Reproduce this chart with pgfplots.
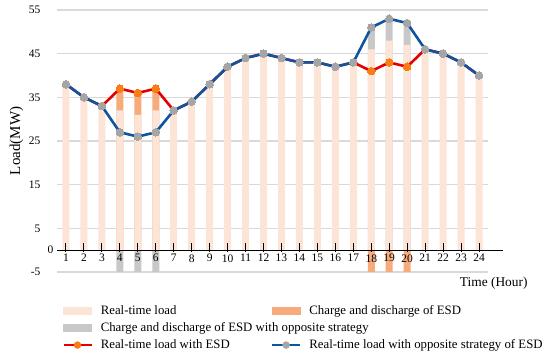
\documentclass[border=0pt]{standalone}
\usepackage{fontspec}
\setmainfont{Liberation Serif}
\usepackage{pgfplots}
\pgfplotsset{compat=1.18}
\definecolor{loadc}{RGB}{252,228,214}
\definecolor{esdc}{RGB}{247,170,122}
\definecolor{oppc}{RGB}{200,200,200}
\definecolor{redl}{RGB}{228,0,0}
\definecolor{orm}{RGB}{250,125,20}
\definecolor{bluel}{RGB}{14,84,158}
\definecolor{graym}{RGB}{165,165,165}
\definecolor{gridc}{RGB}{217,217,217}
\begin{document}
\begin{tikzpicture}[x=1pt,y=1pt]
\useasboundingbox (0,0) rectangle (550,359);
\begin{axis}[
  at={(57pt,87pt)}, anchor=south west, scale only axis,
  width=431pt, height=262pt,
  xmin=0.5, xmax=24.5, ymin=-5, ymax=55,
  axis x line=middle, axis y line=left,
  axis line style={draw=none},
  tick style={draw=none},
  major tick length=0pt,
  xtick={1,...,24}, xticklabels={},
  ytick={-5,5,15,25,35,45,55},
  ymajorgrids, grid style={gridc, line width=1.1pt},
  /pgf/number format/assume math mode=true,
  tick label style={font=\fontsize{11.5}{13}\selectfont},
  yticklabel style={xshift=-13pt},
  xlabel={Time (Hour)},
  xlabel style={at={(axis description cs:1.1,0)}, anchor=north east, yshift=-2pt, font=\fontsize{13.4}{15}\selectfont},
  ylabel={Load(MW)},
  ylabel style={at={(axis description cs:-0.094,0.5)}, anchor=center, font=\fontsize{15}{17}\selectfont},
  clip=false,
  legend style={at={(axis description cs:0,-0.113)}, xshift=2pt, anchor=north west, draw=none, fill=none,
    font=\fontsize{12.8}{14}\selectfont, legend columns=2, legend cell align=left, row sep=2.5pt,
    /tikz/every odd column/.append style={column sep=6pt},
    /tikz/every even column/.append style={column sep=0pt}},
]
\addplot[ybar, bar width=7pt, bar shift=0pt, fill=esdc, draw=none, forget plot]
  coordinates {(4,37) (5,36) (6,37) (18,-5) (19,-5) (20,-5)};
\addplot[ybar, bar width=7pt, bar shift=0pt, fill=oppc, draw=none, forget plot]
  coordinates {(4,-5) (5,-5) (6,-5) (18,51) (19,53) (20,52)};
\addplot[ybar, bar width=7pt, bar shift=0pt, fill=loadc, draw=none, forget plot]
  coordinates {(1,38) (2,35) (3,33) (4,32) (5,31) (6,32) (7,32) (8,34) (9,38) (10,42) (11,44) (12,45)
  (13,44) (14,43) (15,43) (16,42) (17,43) (18,46) (19,48) (20,47) (21,46) (22,45) (23,43) (24,40)};
\draw[line width=1.3pt] (axis cs:0.5,0) -- (axis cs:25.35,0);
\pgfplotsinvokeforeach{1,...,24}{
  \draw[line width=1pt] ([yshift=-1.5pt]axis cs:#1,0) -- ([yshift=7pt]axis cs:#1,0);
  \node[anchor=north, inner sep=0pt, font=\fontsize{11.5}{13}\selectfont] at ([yshift=-4pt]axis cs:#1,0) {#1};
}
\addplot[redl, line width=2.6pt, mark=*, mark size=3.8pt, mark options={fill=orm, draw=orm, line width=0pt}, forget plot]
  coordinates {(1,38) (2,35) (3,33) (4,37) (5,36) (6,37) (7,32) (8,34) (9,38) (10,42) (11,44) (12,45)
  (13,44) (14,43) (15,43) (16,42) (17,43) (18,41) (19,43) (20,42) (21,46) (22,45) (23,43) (24,40)};
\addplot[bluel, line width=2.6pt, mark=*, mark size=3.8pt, mark options={fill=graym, draw=graym, line width=0pt}, forget plot]
  coordinates {(1,38) (2,35) (3,33) (4,27) (5,26) (6,27) (7,32) (8,34) (9,38) (10,42) (11,44) (12,45)
  (13,44) (14,43) (15,43) (16,42) (17,43) (18,51) (19,53) (20,52) (21,46) (22,45) (23,43) (24,40)};
\node[anchor=east, font=\fontsize{11.5}{13}\selectfont] at ([xshift=0pt]axis cs:0.5,0) {0};
\addlegendimage{legend image code/.code={\fill[loadc] (0pt,-3.5pt) rectangle (28pt,3.5pt);}}
\addlegendentry{\makebox[168pt][l]{Real-time load}}
\addlegendimage{legend image code/.code={\fill[esdc] (0pt,-3.5pt) rectangle (28pt,3.5pt);}}
\addlegendentry{Charge and discharge of ESD}
\addlegendimage{legend image code/.code={\fill[oppc] (0pt,-3.5pt) rectangle (28pt,3.5pt);}}
\addlegendentry{\makebox[168pt][l]{Charge and discharge of ESD with opposite strategy}}
\addlegendimage{empty legend}
\addlegendentry{}
\addlegendimage{legend image code/.code={\draw[redl, line width=2.6pt] (0pt,0pt) -- (28pt,0pt); \fill[orm] (14pt,0pt) circle (3.5pt);}}
\addlegendentry{\makebox[168pt][l]{Real-time load with ESD}}
\addlegendimage{legend image code/.code={\draw[bluel, line width=2.6pt] (0pt,0pt) -- (28pt,0pt); \fill[graym] (14pt,0pt) circle (3.5pt);}}
\addlegendentry{Real-time load with opposite strategy of ESD}
\end{axis}
\end{tikzpicture}
\end{document}
